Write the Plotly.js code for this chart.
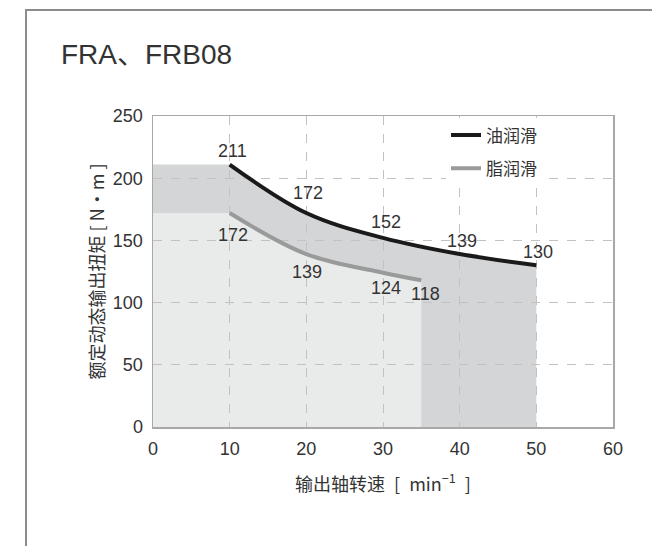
<!DOCTYPE html>
<html><head><meta charset="utf-8">
<script src="https://cdn.plot.ly/plotly-3.0.1.min.js"></script>
<style>
html,body{margin:0;padding:0;background:#fff;}
#wrap{position:relative;width:652px;height:546px;overflow:hidden;}
#chart{position:absolute;left:0;top:0;width:652px;height:546px;}
#frame{position:absolute;left:25px;top:9px;width:700px;height:600px;border-left:2px solid #8c8c8c;border-top:2px solid #8c8c8c;pointer-events:none;}
</style></head><body>
<div id="wrap"><div id="chart"></div><div id="frame"></div></div>
<script>
// ---- data ----
const chartTitle = 'FRA、FRB08';
const seriesNames = ['油润滑', '脂润滑'];
const speedOil = [10, 20, 30, 40, 50];
const torqueOil = [211, 172, 152, 139, 130];
const speedGrease = [10, 20, 30, 35];
const torqueGrease = [172, 139, 124, 118];
const xTicks = [0, 10, 20, 30, 40, 50, 60];
const yTicks = [0, 50, 100, 150, 200, 250];
const xTitle = '输出轴转速\u2002[\u2002min<sup>−1</sup>\u2002]';
const yTitle = '额定动态输出扭矩 [ N·m ]';

// ---- style / layout ----
const oilLabelShift = [[3, 14], [2, 20], [3, 16], [2, 13], [2, 13]];
const greaseLabelShift = [[3, -22], [1, -18], [3, -15], [4, -14]];
const M = {l: 153, r: 39, t: 116, b: 119};
const W = 652, H = 546;
const xRange = [0, 60], yRange = [0, 250];
const FONT = 'Liberation Sans, Arial, Noto Sans CJK SC, sans-serif';
const CJK = 'Noto Sans CJK SC, Liberation Sans, sans-serif';
const TXT = '#333333';

const pw = W - M.l - M.r, ph = H - M.t - M.b;
const sx = pw / (xRange[1] - xRange[0]), sy = ph / (yRange[1] - yRange[0]);
function toPx(x, y) { return [x * sx, -y * sy]; }
function toData(p) { return [p[0] / sx, -p[1] / sy]; }
function tangent(prev, pt, next) {
  const d1x = prev[0] - pt[0], d1y = prev[1] - pt[1];
  const d2x = next[0] - pt[0], d2y = next[1] - pt[1];
  const d1a = Math.pow(d1x * d1x + d1y * d1y, 0.25);
  const d2a = Math.pow(d2x * d2x + d2y * d2y, 0.25);
  const nx = d2a * d2a * d1x - d1a * d1a * d2x;
  const ny = d2a * d2a * d1y - d1a * d1a * d2y;
  const den1 = 3 * d2a * (d1a + d2a), den2 = 3 * d1a * (d1a + d2a);
  return [[pt[0] + nx / den1, pt[1] + ny / den1], [pt[0] - nx / den2, pt[1] - ny / den2]];
}
function fmt(p) { const d = toData(p); return d[0].toFixed(4) + ',' + d[1].toFixed(4); }
// same smoothing as plotly 'spline' (smoothing 1), in pixel space, mapped back to data space
function splineSegment(xs, ys) {
  const pts = xs.map((x, i) => toPx(x, ys[i]));
  const tg = [];
  for (let i = 1; i < pts.length - 1; i++) tg.push(tangent(pts[i - 1], pts[i], pts[i + 1]));
  let s = ' Q' + fmt(tg[0][0]) + ' ' + fmt(pts[1]);
  for (let i = 2; i < pts.length - 1; i++) s += ' C' + fmt(tg[i - 2][1]) + ' ' + fmt(tg[i - 1][0]) + ' ' + fmt(pts[i]);
  s += ' Q' + fmt(tg[pts.length - 3][1]) + ' ' + fmt(pts[pts.length - 1]);
  return s;
}
function regionPath(xs, ys) {
  const x0 = xRange[0], n = xs.length;
  return 'M' + x0 + ',0 L' + x0 + ',' + ys[0] + ' L' + xs[0] + ',' + ys[0] +
    splineSegment(xs, ys) + ' L' + xs[n - 1] + ',0 Z';
}

const shapes = [
  {type: 'path', layer: 'below', xref: 'x', yref: 'y', path: regionPath(speedOil, torqueOil),
   fillcolor: '#d4d5d6', line: {width: 0}},
  {type: 'path', layer: 'below', xref: 'x', yref: 'y', path: regionPath(speedGrease, torqueGrease),
   fillcolor: '#e9eaea', line: {width: 0}}
];

const traces = [
  {x: speedOil, y: torqueOil, name: seriesNames[0], legendgroup: 'a', type: 'scatter', mode: 'lines',
   line: {color: '#1a1a1a', width: 4, shape: 'spline'}, hoverinfo: 'skip'},
  {x: speedGrease, y: torqueGrease, name: seriesNames[1], legendgroup: 'b', type: 'scatter', mode: 'lines',
   line: {color: '#9a9a9a', width: 4, shape: 'spline'}, hoverinfo: 'skip'}
];

const annotations = [];
speedOil.forEach((x, i) => annotations.push({x: x, y: torqueOil[i], text: String(torqueOil[i]), showarrow: false,
  xshift: oilLabelShift[i][0], yshift: oilLabelShift[i][1], font: {family: FONT, size: 18, color: TXT}}));
speedGrease.forEach((x, i) => annotations.push({x: x, y: torqueGrease[i], text: String(torqueGrease[i]), showarrow: false,
  xshift: greaseLabelShift[i][0], yshift: greaseLabelShift[i][1], font: {family: FONT, size: 18, color: TXT}}));

const axisCommon = {
  showline: true, mirror: true, linecolor: '#a8a8a8', linewidth: 1.5,
  showgrid: true, gridcolor: '#c2c2c2', gridwidth: 1, griddash: 'dash',
  zeroline: false, ticks: 'outside', ticklen: 5, tickcolor: 'rgba(0,0,0,0)',
  tickfont: {family: FONT, size: 18, color: TXT}, fixedrange: true
};

const layout = {
  width: W, height: H,
  margin: M,
  paper_bgcolor: '#ffffff', plot_bgcolor: '#ffffff',
  showlegend: true,
  title: {text: chartTitle, x: 61 / W, xanchor: 'left', xref: 'container', y: 1 - 54 / H, yanchor: 'middle', yref: 'container',
          font: {family: FONT, size: 28, color: TXT}},
  xaxis: Object.assign({}, axisCommon, {range: xRange, tickvals: xTicks,
    title: {text: xTitle, standoff: 20, font: {family: CJK, size: 18, color: TXT}}}),
  yaxis: Object.assign({}, axisCommon, {range: yRange, tickvals: yTicks,
    title: {text: yTitle, standoff: 3, font: {family: CJK, size: 18, color: TXT}}}),
  legend: {x: (446 - M.l) / pw, xanchor: 'left', y: 0.995, yanchor: 'top', bgcolor: '#ffffff', borderwidth: 0,
    font: {family: CJK, size: 17, color: TXT}, tracegroupgap: 8, traceorder: 'grouped', itemwidth: 30},
  shapes: shapes,
  annotations: annotations
};

Plotly.newPlot('chart', traces, layout, {displayModeBar: false, staticPlot: true});
</script>
</body></html>
